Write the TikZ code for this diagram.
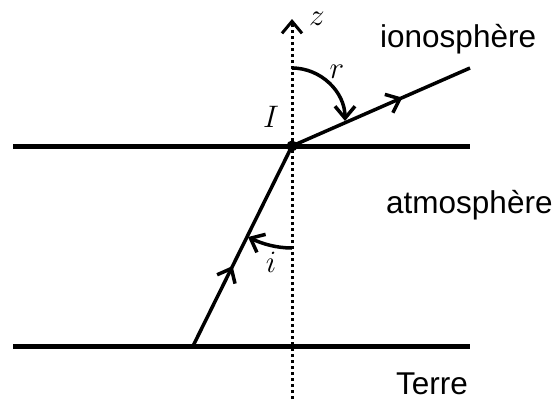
\documentclass[tikz,border=0pt]{standalone}
\usepackage{graphicx}
\usepackage{fontspec}
\setmainfont{Liberation Sans}
\usetikzlibrary{arrows.meta,decorations.markings}
\newcommand\mylbl[1]{\scalebox{1.25}{\fontsize{24.88}{30}\selectfont$#1$}}
\begin{document}
\begin{tikzpicture}[x=1pt,y=-1pt,
  layer/.style={line width=5pt},
  ray/.style={line width=3.5pt},
  dotline/.style={line width=3pt, dash pattern=on 3pt off 3pt},
  barb/.tip={Straight Barb[length=12pt,width=20pt]},
  lbl/.style={inner sep=0pt},
  txt/.style={inner sep=0pt, anchor=base west, font=\fontsize{31.5}{36}\selectfont}]
\useasboundingbox (0,0) rectangle (557,399);
% points
\coordinate (L1) at (13,146);
\coordinate (R1) at (470,146);
\coordinate (L2) at (13,346);
\coordinate (R2) at (470,346);
\coordinate (I) at (292,146);
\coordinate (B) at (193,346);
\coordinate (E) at (470,68);
\coordinate (ztop) at (292,19);
\coordinate (zbot) at (292,399);
\coordinate (rs) at (292,68);
\coordinate (re) at (345,121);
\coordinate (is) at (292,248);
\coordinate (ie) at (248,237);
% layers
\draw[layer] (L1) -- (R1);
\draw[layer] (L2) -- (R2);
% axis z
\draw[dotline, -{barb}] (zbot) -- (ztop);
% rays
\draw[ray, postaction=decorate, decoration={markings,
  mark=at position 0.4 with {\arrow{barb}}}] (B) -- (I);
\draw[ray, postaction=decorate, decoration={markings,
  mark=at position 0.62 with {\arrow{barb}}}] (I) -- (E);
% angles
\draw[ray, -{barb}] (rs) .. controls (321,68) and (345,92) .. (re);
\draw[ray, -{barb}] (is) .. controls (276.3,248) and (262.1,243.8) .. (ie);
\fill (I) circle[radius=5.5];
% labels
\node[lbl] (zl) at (317,19) {\mylbl{z}};
\node[lbl] (rl) at (337,72) {\mylbl{r}};
\node[lbl] (Il) at (271,117) {\mylbl{I}};
\node[lbl] (il) at (271,262) {\mylbl{i}};
\node[txt] (iono) at (380,47) {ionosphère};
\node[txt] (atmo) at (386,213) {atmosphère};
\node[txt] (terre) at (396,394) {Terre};
\end{tikzpicture}
\end{document}
